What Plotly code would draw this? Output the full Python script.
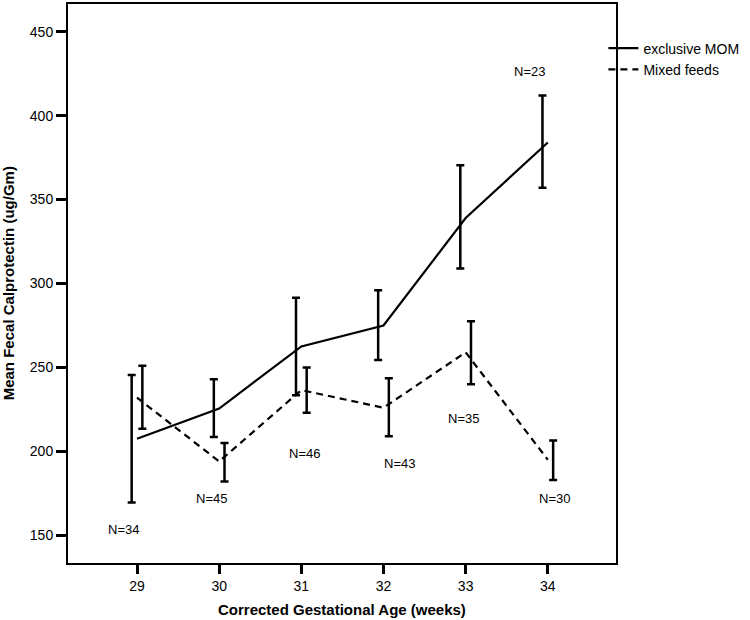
import plotly.graph_objects as go

weeks = [29, 30, 31, 32, 33, 34]
mom_mean = [207.5, 225.5, 262.5, 275, 339, 384]
mom_upper = [245.5, 243, 291.5, 296, 370.5, 412]
mom_lower = [169.5, 208.5, 233.5, 254.5, 309, 357]
mixed_mean = [232, 194, 236.5, 226, 259, 195]
mixed_upper = [251, 205, 250, 243.5, 277.5, 206.5]
mixed_lower = [213.5, 182, 223, 209, 240, 183]

n_labels = ["N=34", "N=45", "N=46", "N=43", "N=35", "N=30", "N=23"]
n_label_x = [28.83, 29.91, 31.04, 32.19, 32.97, 34.08, 33.78]
n_label_y = [153.5, 172, 198.5, 192.5, 219.5, 172, 426.5]

FONT = "Liberation Sans, Arial, sans-serif"
BAR_OFFSET = 0.065

fig = go.Figure()

fig.add_trace(go.Scatter(
    x=weeks, y=mom_mean, mode="lines", name="exclusive MOM",
    line=dict(color="black", width=2.2)))
fig.add_trace(go.Scatter(
    x=weeks, y=mixed_mean, mode="lines", name="Mixed feeds",
    line=dict(color="black", width=2.2, dash="7px,5px")))

def add_bars(upper, lower, offset):
    cen = [(u + l) / 2 for u, l in zip(upper, lower)]
    fig.add_trace(go.Scatter(
        x=[w + offset for w in weeks], y=cen, mode="markers",
        marker=dict(size=1, opacity=0), showlegend=False, hoverinfo="skip",
        error_y=dict(type="data", symmetric=False,
                     array=[u - c for u, c in zip(upper, cen)],
                     arrayminus=[c - l for c, l in zip(cen, lower)],
                     color="black", thickness=2.5, width=4)))

add_bars(mom_upper, mom_lower, -BAR_OFFSET)
add_bars(mixed_upper, mixed_lower, BAR_OFFSET)

for t, x, y in zip(n_labels, n_label_x, n_label_y):
    fig.add_annotation(x=x, y=y, text=t, showarrow=False,
                       font=dict(family=FONT, size=13, color="black"))

# axis titles
fig.add_annotation(xref="paper", yref="paper", x=-0.108, y=0.5,
                   text="<b>Mean Fecal Calprotectin (ug/Gm)</b>", textangle=-90,
                   showarrow=False, xanchor="center", yanchor="middle",
                   font=dict(family=FONT, size=15, color="black"))
fig.add_annotation(xref="paper", yref="paper", x=0.5, y=-0.084,
                   text="<b>Corrected Gestational Age (weeks)</b>",
                   showarrow=False, xanchor="center", yanchor="middle",
                   font=dict(family=FONT, size=15, color="black"))

fig.update_layout(
    width=750, height=620,
    margin=dict(l=68, r=134, t=4, b=57),
    paper_bgcolor="white", plot_bgcolor="white",
    font=dict(family=FONT, size=14, color="black"),
    legend=dict(x=0.977, xanchor="left", y=0.949, yanchor="top",
                font=dict(family=FONT, size=14, color="black"),
                itemwidth=30, tracegroupgap=0, bgcolor="rgba(0,0,0,0)"),
    xaxis=dict(range=[28.16, 34.83], tickvals=weeks, ticktext=[str(w) for w in weeks],
               showgrid=False, zeroline=False, showline=True, linecolor="black",
               linewidth=2, mirror=True, ticks="outside", ticklen=9, tickwidth=2.5,
               tickcolor="black", tickfont=dict(family=FONT, size=14), automargin=False),
    yaxis=dict(range=[133.5, 466.5], tickvals=[150, 200, 250, 300, 350, 400, 450],
               showgrid=False, zeroline=False, showline=True, linecolor="black",
               linewidth=2, mirror=True, ticks="outside", ticklen=10, tickwidth=2.5,
               tickcolor="black", tickfont=dict(family=FONT, size=14), automargin=False),
)

fig.write_html("out.html", config={"displayModeBar": False},
               post_script="document.body.style.margin='0';")
